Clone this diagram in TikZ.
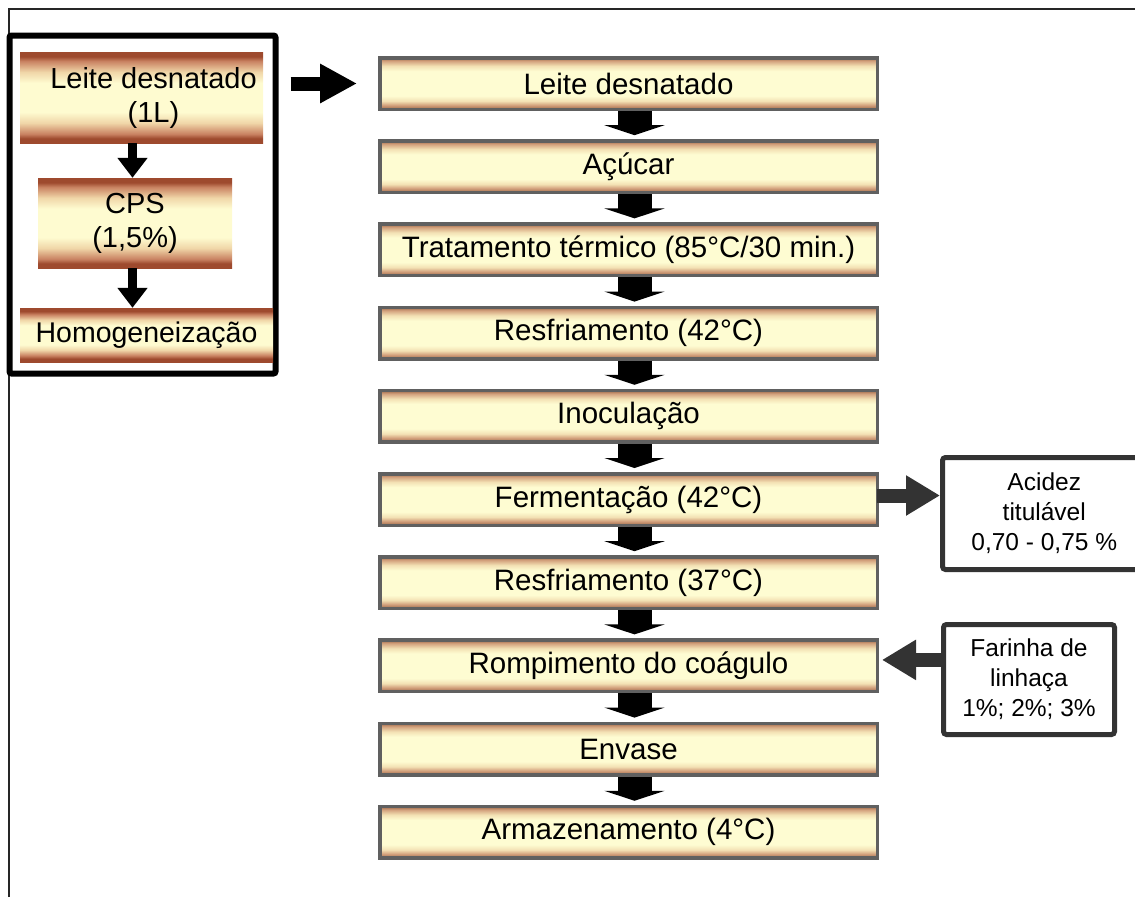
\documentclass[tikz,border=0pt]{standalone}
\usepackage{fontspec}
\setmainfont{Liberation Sans}
\usetikzlibrary{arrows.meta}
\definecolor{mA}{HTML}{9C6848}
\definecolor{mB}{HTML}{D2A07C}
\definecolor{mC}{HTML}{F3E1B4}
\definecolor{mD}{HTML}{FEFCD2}
\definecolor{lA}{HTML}{9E4A2E}
\definecolor{lB}{HTML}{C98262}
\definecolor{lC}{HTML}{F0D6A8}
\definecolor{lD}{HTML}{FEFBD0}
\definecolor{mborder}{HTML}{606060}
\definecolor{sidegray}{HTML}{333333}
\pgfdeclareverticalshading{mainshade}{100bp}{color(0bp)=(mA); color(25bp)=(mA); color(29bp)=(mB); color(33bp)=(mC); color(38bp)=(mD); color(62bp)=(mD); color(67bp)=(mC); color(72bp)=(mB); color(75bp)=(mA); color(100bp)=(mA)}
\pgfdeclareverticalshading{lefttall}{100bp}{color(0bp)=(lA); color(25bp)=(lA); color(27.5bp)=(lA); color(30bp)=(lB); color(36bp)=(lC); color(42bp)=(lD); color(58bp)=(lD); color(64bp)=(lC); color(70bp)=(lB); color(72.5bp)=(lA); color(75bp)=(lA); color(100bp)=(lA)}
\pgfdeclareverticalshading{leftshort}{100bp}{color(0bp)=(lA); color(25bp)=(lA); color(28bp)=(lA); color(31bp)=(lB); color(36bp)=(lC); color(41bp)=(lD); color(59bp)=(lD); color(64bp)=(lC); color(69bp)=(lB); color(72bp)=(lA); color(75bp)=(lA); color(100bp)=(lA)}
\begin{document}
\begin{tikzpicture}[x=1pt,y=-1pt,
  mbox/.style={draw=mborder, line width=3.5pt, shade, shading=mainshade, minimum width=497.5pt, minimum height=51.5pt, inner sep=0pt, font=\fontsize{29.5}{34}\selectfont},
  lboxtall/.style={shade, shading=lefttall, inner sep=0pt, align=center, font=\fontsize{29}{34}\selectfont},
  lboxshort/.style={shade, shading=leftshort, inner sep=0pt, align=center, font=\fontsize{28.5}{34}\selectfont},
  sbox/.style={draw=sidegray, line width=5pt, rounded corners=3pt, fill=white, inner sep=0pt, align=center, font=\fontsize{24.5}{30}\selectfont},
  marrow/.style={draw=black, line width=34pt, -{Triangle[width=60pt,length=10pt]}},
  larrow/.style={draw=black, line width=9pt, -{Triangle[width=29pt,length=20pt]}},
  harrow/.style={draw=black, line width=14pt, -{Triangle[width=37pt,length=37pt]}},
  sarrow/.style={draw=sidegray, line width=14pt, -{Triangle[width=38pt,length=34pt]}}
]
\useasboundingbox (0,0) rectangle (1135,897);
% outer frame (open at bottom and right)
\draw[line width=2pt, black!85] (9,897) -- (9,9) -- (1135,9);
% left container
\node[draw=black, line width=6pt, rounded corners=2pt, minimum width=266pt, minimum height=338pt, inner sep=0pt] (cont) at (142.5,204.5) {};
\node[lboxtall, minimum width=243pt, minimum height=91pt] (L1) at (141.5,97.5) {\hspace*{24pt}Leite desnatado\\\hspace*{24pt}(1L)};
\node[lboxtall, minimum width=194pt, minimum height=90pt] (L2) at (135,223) {CPS\\(1,5\%)};
\node[lboxshort, minimum width=253pt, minimum height=54pt] (L3) at (146.5,335) {Homogeneização};
\draw[larrow] (L1.south -| 132.5,0) -- (L2.north -| 132.5,0);
\draw[larrow] (L2.south -| 132.5,0) -- (L3.north -| 132.5,0);
% main column
\node[mbox] (M1) at (628.5,83.5) {Leite desnatado};
\node[mbox] (M2) at (628.5,166.7) {Açúcar};
\node[mbox] (M3) at (628.5,249.9) {Tratamento térmico (85°C/30 min.)};
\node[mbox] (M4) at (628.5,333.1) {Resfriamento (42°C)};
\node[mbox] (M5) at (628.5,416.3) {Inoculação};
\node[mbox] (M6) at (628.5,499.5) {Fermentação (42°C)};
\node[mbox] (M7) at (628.5,582.7) {Resfriamento (37°C)};
\node[mbox] (M8) at (628.5,665.9) {Rompimento do coágulo};
\node[mbox] (M9) at (628.5,749.1) {Envase};
\node[mbox] (M10) at (628.5,832.3) {Armazenamento (4°C)};
\foreach \a/\b in {M1/M2,M2/M3,M3/M4,M4/M5,M5/M6,M6/M7,M7/M8,M8/M9,M9/M10}
  \draw[marrow, shorten >=4pt] ([xshift=6pt]\a.south) -- ([xshift=6pt]\b.north);
% arrow from left container to main column
\draw[harrow] ([xshift=12pt]cont.east |- M1.west) -- ([xshift=-21pt]M1.west);
% side boxes
\node[sbox, minimum width=203.5pt, minimum height=112pt] (AC) at (1044.25,513.5) {Acidez\\titulável\\0,70 - 0,75 \%};
\node[sbox, minimum width=171pt, minimum height=110pt] (FA) at (1029,679.5) {Farinha de\\linhaça\\1\%; 2\%; 3\%};
\coordinate (a6) at ([xshift=-2pt,yshift=4pt]M6.east);
\coordinate (a8) at ([yshift=6pt]M8.east);
\draw[sarrow] (a6) -- (AC.west |- a6);
\draw[sarrow, shorten >=3pt] (FA.west |- a8) -- (a8);
\end{tikzpicture}
\end{document}
